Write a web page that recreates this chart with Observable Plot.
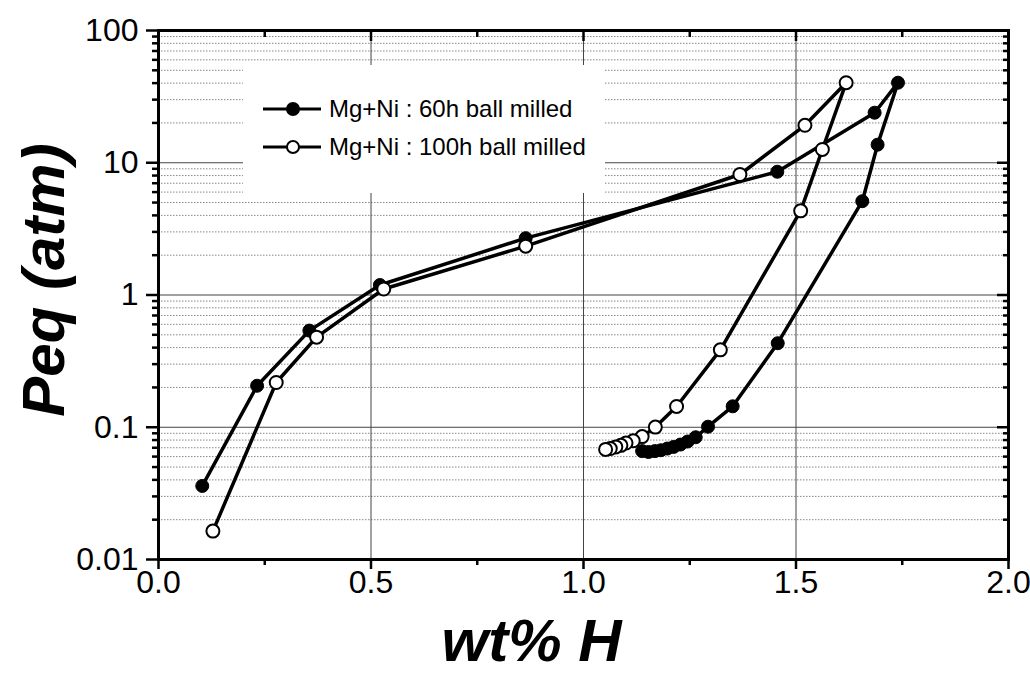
<!DOCTYPE html>
<html>
<head>
<meta charset="utf-8">
<script src="https://cdn.jsdelivr.net/npm/d3@7"></script>
<script src="https://cdn.jsdelivr.net/npm/@observablehq/plot@0.6"></script>
<style>
  body { margin: 0; background: #fff; }
  #wrap { position: relative; width: 1030px; height: 673px; }
  #legend { position: absolute; left: 243px; top: 65px; width: 362px; height: 128px; background: #fff; }
</style>
</head>
<body>
<div id="wrap"><div id="legend"></div></div>
<script>
// ---- data ----
const s60X = [0.103, 0.232, 0.355, 0.521, 0.864, 1.456, 1.685, 1.740, 1.692, 1.656, 1.457, 1.351, 1.293, 1.264, 1.245, 1.228, 1.212, 1.197, 1.182, 1.168, 1.153, 1.138];
const s60Y = [0.036, 0.206, 0.538, 1.19, 2.69, 8.55, 23.9, 40.3, 13.7, 5.12, 0.432, 0.144, 0.101, 0.084, 0.078, 0.074, 0.071, 0.069, 0.067, 0.066, 0.065, 0.066];
const s100X = [0.128, 0.277, 0.372, 0.530, 0.864, 1.368, 1.521, 1.618, 1.562, 1.511, 1.322, 1.219, 1.169, 1.138, 1.117, 1.100, 1.088, 1.076, 1.063, 1.052];
const s100Y = [0.0164, 0.218, 0.48, 1.11, 2.34, 8.15, 19.2, 40.3, 12.6, 4.33, 0.385, 0.1436, 0.1003, 0.085, 0.079, 0.076, 0.073, 0.071, 0.069, 0.068];
const seriesNames = ["Mg+Ni : 60h ball milled", "Mg+Ni : 100h ball milled"];

const xMajor = [0, 0.5, 1.0, 1.5, 2.0];
const xMinor = [0.25, 0.75, 1.25, 1.75];
const yMajor = [0.01, 0.1, 1, 10, 100];
const yMajorLabels = ["0.01", "0.1", "1", "10", "100"];
const yMinor = [];
for (const d of [0.01, 0.1, 1, 10]) for (let k = 2; k <= 9; k++) yMinor.push(+(d * k).toPrecision(3));

const xLabel = "wt% H";
const yLabel = "Peq (atm)";

const s60 = s60X.map((x, i) => ({x, y: s60Y[i]}));
const s100 = s100X.map((x, i) => ({x, y: s100Y[i]}));

const font = "'Liberation Sans', Arial, sans-serif";
const tickFont = 32;

const plot = Plot.plot({
  width: 1030,
  height: 673,
  marginLeft: 158,
  marginRight: 22,
  marginTop: 30,
  marginBottom: 114,
  style: {fontFamily: font, background: "white", color: "black"},
  x: {domain: [0, 2]},
  y: {type: "log", domain: [0.01, 100]},
  marks: [
    Plot.ruleY(yMinor, {stroke: "#888", strokeWidth: 1, strokeDasharray: "1.5,1.5"}),
    Plot.ruleY(yMajor, {stroke: "#444", strokeWidth: 1}),
    Plot.ruleX(xMajor, {stroke: "#444", strokeWidth: 1}),
    // left axis
    Plot.axisY({anchor: "left", ticks: yMajor, tickSize: 12, tickPadding: 8, tickFormat: d => yMajorLabels[yMajor.indexOf(d)], fontSize: tickFont, strokeWidth: 2.5, label: null}),
    Plot.axisY({anchor: "left", ticks: yMinor, tickSize: 6, tickFormat: () => "", strokeWidth: 2.5, label: null}),
    // right axis (inward)
    Plot.axisY({anchor: "right", ticks: yMajor, tickSize: -12, tickFormat: () => "", strokeWidth: 2.5, label: null}),
    Plot.axisY({anchor: "right", ticks: yMinor, tickSize: -6, tickFormat: () => "", strokeWidth: 2.5, label: null}),
    // bottom axis
    Plot.axisX({anchor: "bottom", ticks: xMajor, tickSize: 10, tickPadding: 1, tickFormat: d3.format(".1f"), fontSize: tickFont, strokeWidth: 2.5, label: null}),
    Plot.axisX({anchor: "bottom", ticks: xMinor, tickSize: 6, tickFormat: () => "", strokeWidth: 2.5, label: null}),
    // top axis (inward)
    Plot.axisX({anchor: "top", ticks: xMajor, tickSize: -10, tickFormat: () => "", strokeWidth: 2.5, label: null}),
    Plot.axisX({anchor: "top", ticks: xMinor, tickSize: -6, tickFormat: () => "", strokeWidth: 2.5, label: null}),
    Plot.frame({stroke: "black", strokeWidth: 3}),
    // data
    Plot.line(s60, {x: "x", y: "y", stroke: "black", strokeWidth: 3.5, curve: "linear"}),
    Plot.line(s100, {x: "x", y: "y", stroke: "black", strokeWidth: 3.5, curve: "linear"}),
    Plot.dot(s60, {x: "x", y: "y", r: 6.5, fill: "black", stroke: "black", strokeWidth: 1}),
    Plot.dot(s100, {x: "x", y: "y", r: 6.5, fill: "white", stroke: "black", strokeWidth: 2}),
    // axis titles
    Plot.text([xLabel], {frameAnchor: "bottom", dx: -52, dy: 82, text: d => d, textAnchor: "middle", lineAnchor: "middle", fontSize: 60, fontWeight: "bold", fontStyle: "italic", fill: "black"}),
    Plot.text([yLabel], {frameAnchor: "left", dx: -114, dy: -15, rotate: -90, text: d => d, textAnchor: "middle", fontSize: 60, fontWeight: "bold", fontStyle: "italic", fill: "black"})
  ]
});

const wrap = document.getElementById("wrap");
wrap.insertBefore(plot, wrap.firstChild);

// legend overlay (white box that hides the grid, as in the original)
const lg = d3.select("#legend").append("svg").attr("width", 362).attr("height", 128)
  .style("font-family", font);
const entries = [{name: seriesNames[0], fill: "black", y: 44}, {name: seriesNames[1], fill: "white", y: 82}];
for (const e of entries) {
  lg.append("line").attr("x1", 20).attr("x2", 78).attr("y1", e.y).attr("y2", e.y).attr("stroke", "black").attr("stroke-width", 3);
  lg.append("circle").attr("cx", 50).attr("cy", e.y).attr("r", 6).attr("fill", e.fill).attr("stroke", "black").attr("stroke-width", 2);
  lg.append("text").attr("x", 86).attr("y", e.y).attr("dy", "0.35em").attr("font-size", 24).attr("fill", "black").text(e.name);
}
</script>
</body>
</html>
